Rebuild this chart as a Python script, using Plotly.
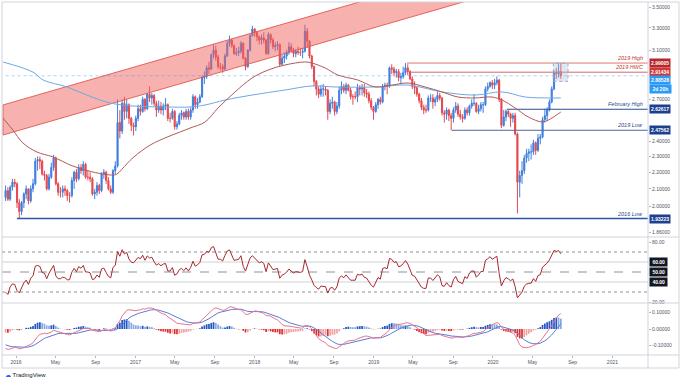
import numpy as np
import pandas as pd
import plotly.graph_objects as go
from plotly.subplots import make_subplots

FONT = "Liberation Sans"

# ---------------- data (weekly copper) ----------------
# weekly closes before the visible window (Feb..Nov 2015), only used to seed RSI / MACD
warmup_close = [2.57, 2.60, 2.60, 2.67, 2.63, 2.61, 2.73, 2.77, 2.76, 2.72, 2.73, 2.77, 2.90,
                2.96, 2.87, 2.79, 2.74, 2.72, 2.63, 2.61, 2.64, 2.59, 2.54, 2.48, 2.39, 2.36,
                2.33, 2.33, 2.28, 2.31, 2.33, 2.37, 2.35, 2.32, 2.36, 2.42, 2.38, 2.35, 2.32,
                2.23, 2.15, 2.06, 2.05]

first_week = "2015-11-30"

close_2015 = [2.09, 2.04, 2.11, 2.14, 2.13]
high_2015 = [2.12, 2.11, 2.12, 2.16, 2.16]
low_2015 = [2.03, 2.03, 2.03, 2.09, 2.11]

close_2016 = [2.02, 1.97, 2.02, 2.07,
              2.10, 2.03, 2.10, 2.13, 2.27,
              2.28, 2.27, 2.19, 2.18,
              2.10, 2.17, 2.23, 2.29,
              2.13, 2.08, 2.08, 2.10, 2.09,
              2.06, 2.06, 2.15, 2.20,
              2.16, 2.23, 2.21, 2.25,
              2.17, 2.17, 2.16, 2.07, 2.08,
              2.12, 2.09, 2.19, 2.20,
              2.15, 2.10, 2.08, 2.21, 2.24,
              2.53, 2.47, 2.67, 2.61,
              2.66, 2.56, 2.51, 2.50]
high_2016 = [2.14, 2.04, 2.03, 2.08,
             2.12, 2.10, 2.12, 2.16, 2.29,
             2.30, 2.30, 2.28, 2.21,
             2.19, 2.19, 2.26, 2.31,
             2.30, 2.14, 2.11, 2.12, 2.12,
             2.10, 2.08, 2.17, 2.21,
             2.22, 2.25, 2.25, 2.27,
             2.26, 2.21, 2.20, 2.17, 2.10,
             2.14, 2.13, 2.20, 2.22,
             2.21, 2.17, 2.12, 2.22, 2.27,
             2.70, 2.62, 2.70, 2.72,
             2.70, 2.67, 2.57, 2.53]
low_2016 = [1.99, 1.9322, 1.95, 1.99,
            2.04, 2.01, 2.02, 2.08, 2.12,
            2.21, 2.22, 2.18, 2.15,
            2.09, 2.09, 2.16, 2.21,
            2.12, 2.06, 2.05, 2.05, 2.06,
            2.03, 2.02, 2.05, 2.10,
            2.14, 2.15, 2.19, 2.18,
            2.16, 2.15, 2.14, 2.06, 2.04,
            2.06, 2.07, 2.08, 2.16,
            2.13, 2.09, 2.07, 2.07, 2.19,
            2.23, 2.42, 2.45, 2.55,
            2.56, 2.52, 2.47, 2.44]

close_2017 = [2.56, 2.63, 2.61, 2.70, 2.63,
              2.74, 2.71, 2.73, 2.67,
              2.62, 2.65, 2.62, 2.65,
              2.66, 2.56, 2.56, 2.61,
              2.50, 2.52, 2.58, 2.60, 2.57,
              2.61, 2.57, 2.62, 2.72,
              2.66, 2.68, 2.72, 2.87, 2.88,
              2.95, 2.94, 3.06, 3.10,
              3.04, 2.96, 2.96, 2.94,
              3.05, 3.16, 3.19, 3.14, 3.07,
              3.08, 3.09, 3.16, 3.03,
              2.96, 3.10, 3.23, 3.29]
high_2017 = [2.58, 2.66, 2.66, 2.72, 2.71,
             2.75, 2.80, 2.75, 2.74,
             2.69, 2.69, 2.68, 2.67,
             2.71, 2.67, 2.60, 2.63,
             2.62, 2.54, 2.60, 2.62, 2.61,
             2.63, 2.63, 2.64, 2.74,
             2.73, 2.71, 2.74, 2.89, 2.92,
             2.97, 3.00, 3.07, 3.15,
             3.14, 3.06, 2.99, 2.98,
             3.07, 3.18, 3.23, 3.20, 3.15,
             3.12, 3.13, 3.18, 3.17,
             3.04, 3.11, 3.24, 3.32]
low_2017 = [2.47, 2.54, 2.58, 2.60, 2.61,
            2.62, 2.68, 2.66, 2.65,
            2.57, 2.60, 2.59, 2.58,
            2.62, 2.54, 2.53, 2.55,
            2.48, 2.48, 2.51, 2.55, 2.55,
            2.55, 2.55, 2.55, 2.60,
            2.63, 2.63, 2.67, 2.71, 2.82,
            2.86, 2.90, 2.93, 3.03,
            3.01, 2.94, 2.93, 2.91,
            2.93, 3.04, 3.13, 3.12, 3.06,
            3.05, 3.05, 3.07, 3.02,
            2.93, 2.95, 3.09, 3.22]

close_2018 = [3.26, 3.22, 3.19, 3.21, 3.19,
              3.07, 3.24, 3.19, 3.13,
              3.14, 3.15, 2.98, 3.03,
              3.05, 3.08, 3.13, 3.10, 3.07,
              3.09, 3.08, 3.08, 3.09,
              3.27, 3.18, 3.05, 2.96,
              2.84, 2.78, 2.74, 2.78, 2.78,
              2.77, 2.61, 2.67, 2.68,
              2.61, 2.65, 2.77, 2.80,
              2.77, 2.81, 2.77, 2.72, 2.72,
              2.72, 2.79, 2.78, 2.79,
              2.75, 2.74, 2.69, 2.64, 2.61]
high_2018 = [3.30, 3.27, 3.23, 3.24, 3.26,
             3.20, 3.26, 3.25, 3.21,
             3.17, 3.18, 3.16, 3.06,
             3.08, 3.10, 3.17, 3.16, 3.12,
             3.11, 3.13, 3.12, 3.12,
             3.33, 3.30, 3.19, 3.06,
             2.97, 2.85, 2.80, 2.81, 2.82,
             2.80, 2.78, 2.70, 2.72,
             2.69, 2.68, 2.80, 2.84,
             2.82, 2.83, 2.82, 2.79, 2.74,
             2.76, 2.82, 2.81, 2.82,
             2.82, 2.78, 2.76, 2.71, 2.65]
low_2018 = [3.22, 3.18, 3.15, 3.15, 3.16,
            3.06, 3.06, 3.16, 3.11,
            3.09, 3.10, 2.96, 2.97,
            2.99, 3.02, 3.06, 3.08, 3.04,
            3.04, 3.06, 3.05, 3.03,
            3.08, 3.12, 3.03, 2.94,
            2.80, 2.73, 2.71, 2.72, 2.72,
            2.73, 2.55, 2.59, 2.63,
            2.58, 2.59, 2.63, 2.74,
            2.75, 2.74, 2.76, 2.70, 2.66,
            2.70, 2.68, 2.73, 2.73,
            2.72, 2.71, 2.67, 2.62, 2.55]

close_2019 = [2.66, 2.70, 2.68, 2.80,
              2.81, 2.80, 2.95, 2.94,
              2.91, 2.92, 2.87, 2.88,
              2.91, 2.95, 2.92, 2.86, 2.80,
              2.79, 2.74, 2.69, 2.64,
              2.62, 2.62, 2.71, 2.71,
              2.68, 2.70, 2.73, 2.71, 2.60,
              2.59, 2.62, 2.58, 2.56,
              2.62, 2.65, 2.59, 2.57, 2.56,
              2.62, 2.60, 2.65, 2.67,
              2.67, 2.61, 2.63, 2.66,
              2.66, 2.78, 2.80, 2.83, 2.81]
high_2019 = [2.68, 2.71, 2.72, 2.82,
             2.83, 2.83, 2.96, 2.98,
             2.96, 2.94, 2.94, 2.91,
             2.96, 2.99, 2.98, 2.93, 2.88,
             2.84, 2.80, 2.75, 2.71,
             2.66, 2.66, 2.73, 2.74,
             2.74, 2.72, 2.76, 2.75, 2.72,
             2.62, 2.64, 2.63, 2.60,
             2.64, 2.68, 2.67, 2.62, 2.59,
             2.64, 2.64, 2.66, 2.70,
             2.74, 2.68, 2.66, 2.68,
             2.68, 2.80, 2.83, 2.84, 2.85]
low_2019 = [2.60, 2.63, 2.66, 2.67,
            2.77, 2.74, 2.79, 2.90,
            2.88, 2.87, 2.84, 2.82,
            2.86, 2.89, 2.89, 2.85, 2.78,
            2.74, 2.72, 2.67, 2.62,
            2.59, 2.60, 2.61, 2.68,
            2.63, 2.65, 2.68, 2.69, 2.58,
            2.53, 2.55, 2.54, 2.4756,
            2.53, 2.60, 2.57, 2.55, 2.53,
            2.55, 2.58, 2.58, 2.63,
            2.65, 2.60, 2.59, 2.61,
            2.60, 2.65, 2.76, 2.79, 2.78]

close_2020 = [2.83, 2.85, 2.70, 2.51,
              2.57, 2.61, 2.59, 2.56,
              2.58, 2.45, 2.14, 2.18, 2.21,
              2.29, 2.32, 2.33, 2.33,
              2.39, 2.34, 2.42, 2.43,
              2.55, 2.58, 2.62, 2.68, 2.78,
              2.91, 2.90, 2.92, 2.88528]
high_2020 = [2.86, 2.88, 2.86, 2.71,
             2.62, 2.626, 2.62, 2.60,
             2.60, 2.60, 2.46, 2.21, 2.27,
             2.31, 2.35, 2.35, 2.38,
             2.41, 2.40, 2.45, 2.45,
             2.57, 2.63, 2.64, 2.70, 2.80,
             2.93, 2.95, 2.98, 2.99]
low_2020 = [2.78, 2.81, 2.68, 2.49,
            2.50, 2.54, 2.57, 2.50,
            2.53, 2.44, 1.96, 2.05, 2.13,
            2.19, 2.26, 2.27, 2.28,
            2.31, 2.31, 2.33, 2.38,
            2.42, 2.53, 2.54, 2.61, 2.67,
            2.77, 2.86, 2.87, 2.86]

# moving averages
ma_red_dates = ["2015-11-22", "2015-12-22", "2016-01-22", "2016-03-05", "2016-04-23", "2016-06-23",
                "2016-08-23", "2016-10-24", "2016-11-05", "2016-12-05", "2016-12-27", "2017-02-15",
                "2017-04-08", "2017-05-18", "2017-06-17", "2017-08-02", "2017-09-11", "2017-11-02",
                "2017-12-24", "2018-02-11", "2018-04-04", "2018-06-04", "2018-06-26", "2018-08-05",
                "2018-09-13", "2018-11-13", "2019-01-05", "2019-02-26", "2019-04-16", "2019-06-07",
                "2019-07-29", "2019-09-16", "2019-11-07", "2019-12-29", "2020-01-29", "2020-03-09",
                "2020-04-18", "2020-05-31", "2020-06-19", "2020-07-27"]
ma_red_vals = [2.562, 2.478, 2.389, 2.329, 2.297, 2.239,
               2.202, 2.183, 2.189, 2.252, 2.297, 2.375,
               2.429, 2.464, 2.491, 2.534, 2.636, 2.757,
               2.867, 2.932, 2.974, 2.999, 2.990, 2.949,
               2.891, 2.851, 2.796, 2.811, 2.827, 2.796,
               2.757, 2.718, 2.711, 2.718, 2.695, 2.636,
               2.570, 2.534, 2.548, 2.606]

ma_blue_dates = ["2015-11-22", "2016-02-22", "2016-03-24", "2016-06-05", "2016-08-05", "2016-10-15",
                 "2016-12-24", "2017-04-08", "2017-06-17", "2017-08-02", "2017-10-02", "2017-12-24",
                 "2018-04-04", "2018-06-26", "2018-09-04", "2019-01-05", "2019-04-16", "2019-07-29",
                 "2019-11-07", "2020-01-29", "2020-04-09", "2020-06-19", "2020-07-27"]
ma_blue_vals = [2.999, 2.915, 2.851, 2.796, 2.733, 2.673,
                2.650, 2.643, 2.643, 2.658, 2.695, 2.733,
                2.772, 2.804, 2.796, 2.796, 2.811, 2.757,
                2.733, 2.757, 2.718, 2.711, 2.711]

# rising channel (two parallel lines)
channel_dates = ["2015-11-22", "2020-01-22"]
channel_lower = [2.443, 3.657]
channel_upper = [2.658, 3.978]

# horizontal levels
level_names = ["2019 High", "2019 HWC", "February High", "2019 Low", "2016 Low"]
level_values = [2.99005, 2.91434, 2.62617, 2.47562, 1.93223]
level_start = ["2019-04-12", "2019-04-21", "2020-02-13", "2019-08-28", "2016-01-04"]
level_colors = ["#e57373", "#cf6a6a", "#2b4f91", "#50669a", "#2a55a8"]
level_text_colors = ["#c0392b", "#c0392b", "#2a4a8a", "#2a4a8a", "#2a4a8a"]
level_box_colors = ["#b8262b", "#d03838", "#1d3f8f", "#1d3f8f", "#1d3f8f"]

last_price = 2.88528
countdown = "2d 20h"
box_dates = ["2020-07-04", "2020-08-18"]
box_prices = [2.84, 2.99]

price_ticks = [1.86, 2.0, 2.1, 2.2, 2.3, 2.4, 2.7, 3.1, 3.3, 3.5]
rsi_ticks = [20, 80]
rsi_levels = [60, 50, 40]
macd_ticks = [-0.1, 0.0, 0.1]

x_tick_dates = ["2016-01-01", "2016-05-01", "2016-09-01", "2017-01-01", "2017-05-01", "2017-09-01",
                "2018-01-01", "2018-05-01", "2018-09-01", "2019-01-01", "2019-05-01", "2019-09-01",
                "2020-01-01", "2020-05-01", "2020-09-01", "2021-01-01"]
x_tick_text = ["2016", "May", "Sep", "2017", "May", "Sep", "2018", "May", "Sep",
               "2019", "May", "Sep", "2020", "May", "Sep", "2021"]

# ---------------- assemble ----------------
close = close_2015 + close_2016 + close_2017 + close_2018 + close_2019 + close_2020
high = high_2015 + high_2016 + high_2017 + high_2018 + high_2019 + high_2020
low = low_2015 + low_2016 + low_2017 + low_2018 + low_2019 + low_2020
assert len(close) == len(high) == len(low), (len(close), len(high), len(low))
opens = [warmup_close[-1]] + close[:-1]
dates = pd.date_range(first_week, periods=len(close), freq="W-MON")

# indicators derived from closes
full = pd.Series(warmup_close + close, dtype=float)
delta = full.diff()
gain = delta.clip(lower=0).ewm(alpha=1 / 14, adjust=False).mean()
loss = (-delta.clip(upper=0)).ewm(alpha=1 / 14, adjust=False).mean()
rsi_full = 100 - 100 / (1 + gain / loss)
ema12 = full.ewm(span=12, adjust=False).mean()
ema26 = full.ewm(span=26, adjust=False).mean()
macd_full = ema12 - ema26
signal_full = macd_full.ewm(span=9, adjust=False).mean()
hist_full = macd_full - signal_full
n0 = len(warmup_close)
rsi = rsi_full.iloc[n0:].to_numpy()
macd = macd_full.iloc[n0:].to_numpy()
signal = signal_full.iloc[n0:].to_numpy()
hist = hist_full.iloc[n0:].to_numpy()
hist_prev = hist_full.iloc[n0 - 1:-1].to_numpy()
hist_colors = []
for h, p in zip(hist, hist_prev):
    if h >= 0:
        hist_colors.append("#2356c4" if h >= p else "#86a8e6")
    else:
        hist_colors.append("#e12f2f" if h < p else "#f0a3a3")

UP = "#3f7fdc"
DN = "#e4484e"
X_RANGE = ["2015-11-19", "2021-04-20"]
X_END = "2021-06-01"

fig = make_subplots(rows=3, cols=1, shared_xaxes=True, vertical_spacing=0)

# channel
fig.add_trace(go.Scatter(
    x=[channel_dates[0], channel_dates[1], channel_dates[1], channel_dates[0], channel_dates[0]],
    y=[channel_lower[0], channel_lower[1], channel_upper[1], channel_upper[0], channel_lower[0]],
    mode="lines", fill="toself", fillcolor="rgba(240,100,95,0.5)",
    line=dict(color="rgba(226,86,80,0.9)", width=1), hoverinfo="skip"), row=1, col=1)

# current price line
fig.add_trace(go.Scatter(x=[dates[0], X_END], y=[last_price, last_price], mode="lines",
                         line=dict(color="rgba(41,150,243,0.4)", width=1, dash="dot"),
                         hoverinfo="skip"), row=1, col=1)

# level lines
for v, s, c in zip(level_values, level_start, level_colors):
    fig.add_trace(go.Scatter(x=[s, X_END], y=[v, v], mode="lines",
                             line=dict(color=c, width=1.3 if v < 2 else 1), hoverinfo="skip"),
                  row=1, col=1)

# moving averages
fig.add_trace(go.Scatter(x=ma_blue_dates, y=ma_blue_vals, mode="lines", line_shape="spline",
                         line=dict(color="#6fa8e6", width=1), hoverinfo="skip"), row=1, col=1)
fig.add_trace(go.Scatter(x=ma_red_dates, y=ma_red_vals, mode="lines", line_shape="spline",
                         line=dict(color="#b25a55", width=1), hoverinfo="skip"), row=1, col=1)

# candles
fig.add_trace(go.Candlestick(
    x=dates, open=opens, high=high, low=low, close=close, whiskerwidth=0,
    increasing=dict(line=dict(color=UP, width=1), fillcolor=UP),
    decreasing=dict(line=dict(color=DN, width=1), fillcolor=DN)), row=1, col=1)

# shaded box over the latest candles
fig.add_trace(go.Scatter(
    x=[box_dates[0], box_dates[1], box_dates[1], box_dates[0], box_dates[0]],
    y=[box_prices[0], box_prices[0], box_prices[1], box_prices[1], box_prices[0]],
    mode="lines", fill="toself", fillcolor="rgba(170,185,215,0.35)",
    line=dict(color="#9aa8c8", width=1, dash="dot"), hoverinfo="skip"), row=1, col=1)

# RSI
fig.add_trace(go.Scatter(x=dates, y=rsi, mode="lines", line=dict(color="#a7282f", width=1),
                         hoverinfo="skip"), row=2, col=1)

# MACD
fig.add_trace(go.Bar(x=dates, y=hist, marker=dict(color=hist_colors, line=dict(width=0)),
                     hoverinfo="skip"), row=3, col=1)
fig.add_trace(go.Scatter(x=dates, y=signal, mode="lines", line=dict(color="#5b7bd5", width=1),
                         hoverinfo="skip"), row=3, col=1)
fig.add_trace(go.Scatter(x=dates, y=macd, mode="lines", line=dict(color="#e57390", width=1),
                         hoverinfo="skip"), row=3, col=1)

# ---------------- layout ----------------
ML, MR, MT, MB = 2, 32, 2, 28
W, H = 680, 383
PW, PH = W - ML - MR, H - MT - MB


def px_x(px):
    return (px - ML) / PW


def px_y(py):
    return (H - MB - py) / PH


top_price = 3.5 * np.exp(5 / 356)
bot_price = 3.5 * np.exp(-230 / 356)

axis_font = dict(family=FONT, size=5, color="#50535e")

fig.update_layout(
    width=W, height=H, margin=dict(l=ML, r=MR, t=MT, b=MB, autoexpand=False),
    paper_bgcolor="white", plot_bgcolor="white", showlegend=False,
    font=dict(family=FONT, size=5, color="#50535e"),
    bargap=0.25, hovermode=False,
    yaxis=dict(domain=[px_y(237), 1]),
    yaxis2=dict(domain=[px_y(303), px_y(237)]),
    yaxis3=dict(domain=[0, px_y(303)]),
)
fig.update_xaxes(range=X_RANGE, showgrid=False, zeroline=False, showline=False,
                 rangeslider_visible=False)
fig.update_xaxes(row=3, col=1, tickmode="array", tickvals=x_tick_dates, ticktext=x_tick_text,
                 tickfont=axis_font, ticks="outside", ticklen=2, tickcolor="#b2b5be",
                 showticklabels=True)
fig.update_yaxes(row=1, col=1, type="log", range=[np.log10(bot_price), np.log10(top_price)],
                 side="right", tickmode="array", tickvals=price_ticks,
                 ticktext=[f"{v:.5f}" for v in price_ticks], tickfont=axis_font,
                 ticks="outside", ticklen=2, tickcolor="#b2b5be", showgrid=False, zeroline=False)
fig.update_yaxes(row=2, col=1, range=[19, 85], side="right", tickmode="array",
                 tickvals=rsi_ticks, ticktext=[f"{v:.2f}" for v in rsi_ticks], tickfont=axis_font,
                 ticks="outside", ticklen=2, tickcolor="#b2b5be", showgrid=False, zeroline=False)
fig.update_yaxes(row=3, col=1, range=[-0.1576, 0.1576], side="right", tickmode="array",
                 tickvals=macd_ticks, ticktext=[f"{v:.5f}" for v in macd_ticks],
                 tickfont=axis_font, ticks="outside", ticklen=2, tickcolor="#b2b5be",
                 showgrid=False, zeroline=False)

shapes = []
frame = "#d1d4dc"
right = px_x(679)
bottom = px_y(368)
shapes.append(dict(type="rect", xref="paper", yref="paper", x0=0, x1=right, y0=bottom, y1=1,
                   line=dict(color=frame, width=1)))
shapes.append(dict(type="line", xref="paper", yref="paper", x0=1, x1=1, y0=bottom, y1=1,
                   line=dict(color=frame, width=1)))
for py in (237, 303, 355):
    shapes.append(dict(type="line", xref="paper", yref="paper", x0=0, x1=right,
                       y0=px_y(py), y1=px_y(py), line=dict(color=frame, width=1)))
# RSI guide lines
for lvl, dash, col in [(70, "dot", "#8d909a"), (30, "dot", "#8d909a"), (50, "dash", "#8d909a"),
                       (60, "solid", "#cfd1d6"), (40, "solid", "#cfd1d6")]:
    shapes.append(dict(type="line", xref="paper", yref="y2", x0=0, x1=1, y0=lvl, y1=lvl,
                       line=dict(color=col, width=1, dash=dash), layer="below"))
fig.update_layout(shapes=shapes)

ann = []
lab_font = dict(family=FONT, size=5, color="white")
for name, v, tc, bc in zip(level_names, level_values, level_text_colors, level_box_colors):
    ann.append(dict(xref="paper", yref="y", x=px_x(645), y=np.log10(v), xanchor="right",
                    yanchor="bottom", text=f"<i>{name}</i>", showarrow=False,
                    font=dict(family=FONT, size=5.5, color=tc)))
    ann.append(dict(xref="paper", yref="y", x=px_x(649), y=np.log10(v), xanchor="left",
                    yanchor="middle", text=f"<b>{v:.5f}</b>", showarrow=False, font=lab_font,
                    bgcolor=bc, borderpad=1))
ann.append(dict(xref="paper", yref="y", x=px_x(649), y=np.log10(last_price), xanchor="left",
                yanchor="middle", text=f"<b>{last_price:.5f}</b>", showarrow=False,
                font=lab_font, bgcolor="#2b9af3", borderpad=1, yshift=-4.5))
ann.append(dict(xref="paper", yref="y", x=px_x(649), y=np.log10(last_price), xanchor="left",
                yanchor="middle", text=f"<b>&nbsp;{countdown}&nbsp;</b>", showarrow=False,
                font=lab_font, bgcolor="#2b9af3", borderpad=1, yshift=-13.5))
for lvl in rsi_levels:
    ann.append(dict(xref="paper", yref="y2", x=px_x(649), y=lvl, xanchor="left",
                    yanchor="middle", text=f"<b>&nbsp;{lvl:.2f}&nbsp;</b>", showarrow=False,
                    font=lab_font, bgcolor="#131722", borderpad=1))
ann.append(dict(xref="paper", yref="paper", x=px_x(3), y=px_y(375), xanchor="left",
                yanchor="middle", showarrow=False,
                text='<span style="color:#2962ff">☁</span> TradingView',
                font=dict(family=FONT, size=6, color="#131722")))
fig.update_layout(annotations=ann)

fig.write_html("out.html", config={"displayModeBar": False, "staticPlot": True},
               post_script="document.body.style.margin='0';document.body.style.padding='0';"
                           "document.body.style.overflow='hidden';")
